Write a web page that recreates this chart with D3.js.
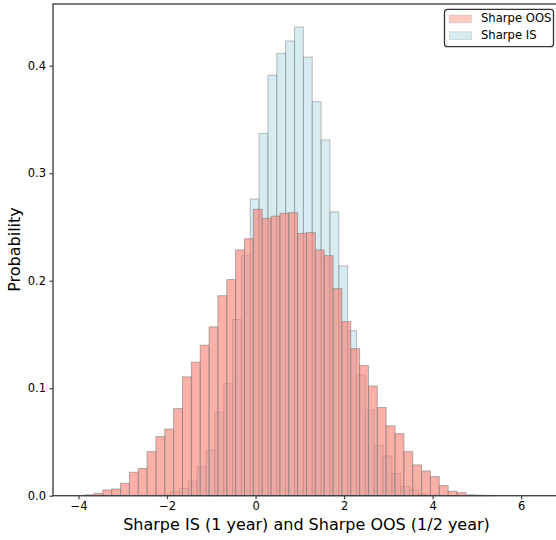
<!DOCTYPE html>
<html>
<head>
<meta charset="utf-8">
<script src="https://cdn.jsdelivr.net/npm/d3@7"></script>
<style>
  html, body { margin: 0; padding: 0; background: #fff; }
  svg { display: block; font-family: "DejaVu Sans", sans-serif; }
</style>
</head>
<body>
<svg id="chart" width="556" height="540"></svg>
<script>
// Histogram bin layout (lower edge of the first bin, common width)
const binWidth = 0.2;
const isFirstEdge = -2.32;
const oosFirstEdge = -3.85;

// Density per bin, Sharpe IS (1 year)
const isDensity = [
  0.0003, 0.0008, 0.0037, 0.0068, 0.0135, 0.027, 0.0425, 0.0777, 0.1046, 0.164,
  0.2233, 0.276, 0.337, 0.391, 0.4115, 0.423, 0.436, 0.408, 0.3665, 0.331,
  0.264, 0.2137, 0.1535, 0.1123, 0.0797, 0.047, 0.037, 0.0208, 0.0084, 0.0053,
  0.0015, 0.0005
];

// Density per bin, Sharpe OOS (1/2 year)
const oosDensity = [
  0.0008, 0.0022, 0.0053, 0.0062, 0.0115, 0.0218, 0.0253, 0.041, 0.055, 0.062,
  0.081, 0.1105, 0.1242, 0.140, 0.157, 0.186, 0.201, 0.2286, 0.239, 0.2664,
  0.258, 0.260, 0.2627, 0.2633, 0.244, 0.2447, 0.2286, 0.2233, 0.1926, 0.1619,
  0.1368, 0.121, 0.102, 0.082, 0.065, 0.0577, 0.041, 0.0286, 0.023, 0.0177,
  0.0093, 0.0041, 0.0028, 0.0008, 0.0005, 0.0003
];

const xTicks = [-4, -2, 0, 2, 4, 6];
const yTicks = [0.0, 0.1, 0.2, 0.3, 0.4];
const seriesNames = ["Sharpe OOS", "Sharpe IS"];
const xDomain = [-4.576, 6.99];
const yDomain = [0, 0.4574];

const toBins = (first, dens) => dens.map((v, i) => ({
  x0: first + i * binWidth,
  x1: first + (i + 1) * binWidth,
  v
}));
const isBins = toBins(isFirstEdge, isDensity);
const oosBins = toBins(oosFirstEdge, oosDensity);

const svg = d3.select("#chart");
const plot = { left: 53, right: 565, top: 4, bottom: 495.7 };

const x = d3.scaleLinear().domain(xDomain).range([plot.left, plot.right]);
const y = d3.scaleLinear().domain(yDomain).range([plot.bottom, plot.top]);

const styles = {
  "Sharpe IS":  { fill: "#ADD8E6", alpha: 0.5, legendAlpha: 0.5 },
  "Sharpe OOS": { fill: "#FA8072", alpha: 0.62, legendAlpha: 0.42 }
};

function drawBars(bins, name) {
  const s = styles[name];
  svg.append("g")
    .selectAll("rect")
    .data(bins)
    .join("rect")
    .attr("x", d => x(d.x0))
    .attr("width", d => x(d.x1) - x(d.x0))
    .attr("y", d => y(d.v))
    .attr("height", d => y(0) - y(d.v))
    .attr("fill", s.fill)
    .attr("fill-opacity", s.alpha)
    .attr("stroke", "#808080")
    .attr("stroke-opacity", s.alpha)
    .attr("stroke-width", 1);
}

drawBars(isBins, "Sharpe IS");
drawBars(oosBins, "Sharpe OOS");

// Axes
const axisColor = "#444";
const xAxis = svg.append("g")
  .attr("transform", `translate(0,${plot.bottom})`)
  .call(d3.axisBottom(x).tickValues(xTicks).tickSize(3.5).tickPadding(3)
    .tickFormat(d => d3.format("d")(d).replace("-", "\u2212")));
const yAxis = svg.append("g")
  .attr("transform", `translate(${plot.left},0)`)
  .call(d3.axisLeft(y).tickValues(yTicks).tickSize(3.5).tickPadding(3.5)
    .tickFormat(d3.format(".1f")));

[xAxis, yAxis].forEach(g => {
  g.select(".domain").remove();
  g.selectAll(".tick line").attr("stroke", axisColor).attr("stroke-width", 1.2);
  g.selectAll(".tick text")
    .attr("fill", "#000")
    .style("font-family", "DejaVu Sans, sans-serif")
    .style("font-size", "11.5px");
});

// Frame (spines)
svg.append("rect")
  .attr("x", plot.left)
  .attr("y", plot.top)
  .attr("width", plot.right - plot.left)
  .attr("height", plot.bottom - plot.top)
  .attr("fill", "none")
  .attr("stroke", axisColor)
  .attr("stroke-width", 1.4);

// Axis titles
svg.append("text")
  .attr("x", 306.5)
  .attr("y", 530)
  .attr("text-anchor", "middle")
  .style("font-size", "16px")
  .attr("fill", "#000")
  .text("Sharpe IS (1 year) and Sharpe OOS (1/2 year)");

svg.append("text")
  .attr("transform", "translate(20,249.5) rotate(-90)")
  .attr("text-anchor", "middle")
  .style("font-size", "16px")
  .attr("fill", "#000")
  .text("Probability");

// Legend
const legend = svg.append("g");
legend.append("rect")
  .attr("x", 444.5).attr("y", 9.3)
  .attr("width", 109).attr("height", 37.4)
  .attr("rx", 3).attr("ry", 3)
  .attr("fill", "#fff").attr("fill-opacity", 0.8)
  .attr("stroke", "#333").attr("stroke-width", 1.3);

seriesNames.forEach((name, i) => {
  const s = styles[name];
  const row = legend.append("g").attr("transform", `translate(0,${i * 16.8})`);
  row.append("rect")
    .attr("x", 449.3).attr("y", 15)
    .attr("width", 22.4).attr("height", 7.8)
    .attr("fill", s.fill).attr("fill-opacity", s.legendAlpha)
    .attr("stroke", "#808080").attr("stroke-opacity", s.legendAlpha * 0.5)
    .attr("stroke-width", 0.8);
  row.append("text")
    .attr("x", 481).attr("y", 22.4)
    .style("font-size", "11.6px")
    .attr("fill", "#000")
    .text(name);
});
</script>
</body>
</html>
